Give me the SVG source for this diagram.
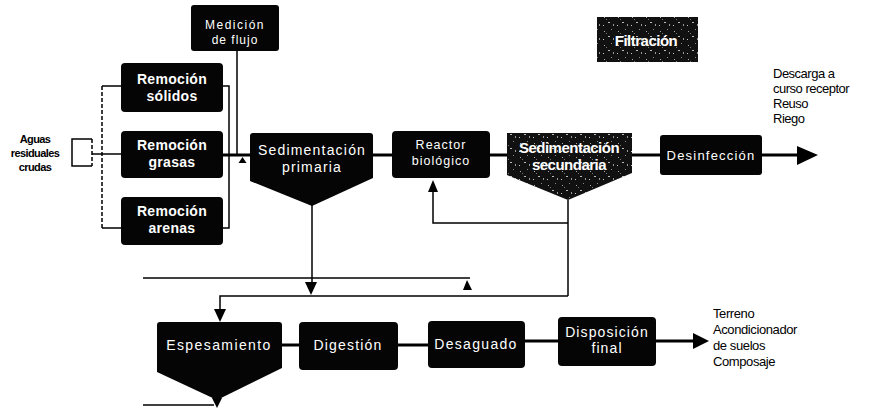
<svg xmlns="http://www.w3.org/2000/svg" width="879" height="408" viewBox="0 0 879 408">
<style>
.box{fill:#050505;}
.tex{fill:url(#speck);}
.t{font-family:"Liberation Sans",Arial,sans-serif;fill:#fff;text-anchor:middle;}
.b{font-weight:bold;}
.k{font-family:"Liberation Sans",Arial,sans-serif;fill:#000;}
.main{stroke:#000;stroke-width:3;fill:none;}
.thin{stroke:#000;stroke-width:1.5;fill:none;}
.dash{stroke:#000;stroke-width:1.5;fill:none;stroke-dasharray:4 2;}
.ah{fill:#000;}
</style>
<defs>
<pattern id="speck" width="14" height="14" patternUnits="userSpaceOnUse">
<rect width="14" height="14" fill="#111"/>
<rect x="2" y="3" width="1" height="1" fill="#aaa"/>
<rect x="9" y="1" width="1" height="1" fill="#888"/>
<rect x="6" y="8" width="2" height="1" fill="#bbb"/>
<rect x="11" y="10" width="1" height="2" fill="#999"/>
<rect x="1" y="11" width="1" height="1" fill="#ccc"/>
<rect x="4" y="5" width="1" height="1" fill="#777"/>
</pattern>
</defs>

<g id="connectors">
  <path class="thin" d="M92,139 H72 V166 H92"/>
  <path class="dash" d="M92,139 V166"/>
  <path class="thin" d="M92,154 H121"/>
  <path class="dash" d="M102,86 V228"/>
  <path class="thin" d="M102,86 H121 M102,228 H121"/>
  <path class="thin" d="M223,86 H229 V228 H223"/>
  <path class="thin" d="M237,51 V155"/>
  <polygon class="ah" points="238.5,163 242.5,157 246.5,163"/>
  <path class="main" d="M223,155 H250"/>
  <path class="main" d="M373,155 H392"/>
  <path class="main" d="M490,155 H507"/>
  <path class="main" d="M632,155 H660"/>
  <path class="main" d="M762,155 H800"/>
  <polygon class="ah" points="797,146 818,155 797,165"/>
  <path class="thin" d="M568,200 V296"/>
  <path class="thin" d="M568,223 H433 V190"/>
  <polygon class="ah" points="428,192 433,180 438,192"/>
  <path class="thin" d="M312,205 V284"/>
  <polygon class="ah" points="305,282 311,295 317,282"/>
  <path class="thin" d="M143,278 H470"/>
  <polygon class="ah" points="463,290 467,280 472,290"/>
  <path class="thin" d="M568,296 H220 V311"/>
  <polygon class="ah" points="214,309 220,322 226,309"/>
  <path class="main" d="M282,345 H299"/>
  <path class="main" d="M398,345 H428"/>
  <path class="main" d="M525,341 H558"/>
  <path class="main" d="M656,341 H695"/>
  <polygon class="ah" points="693,333 709,341 693,349"/>
  <polygon class="ah" points="212,398 217,408 222,398"/>
  <path class="thin" d="M143,405 H214"/>
</g>

<g id="aguas">
  <text class="k b" x="35" y="143" font-size="11" text-anchor="middle" letter-spacing="-0.6">Aguas</text>
  <text class="k b" x="35" y="157" font-size="11" text-anchor="middle" letter-spacing="-0.6">residuales</text>
  <text class="k b" x="35" y="171" font-size="11" text-anchor="middle" letter-spacing="-0.6">crudas</text>
</g>

<g id="medicion">
  <rect class="box" x="191" y="5" width="88" height="46" rx="3"/>
  <text class="t" x="235" y="29" font-size="12" letter-spacing="1.5">Medición</text>
  <text class="t" x="235" y="44" font-size="12" letter-spacing="1">de flujo</text>
</g>

<g id="rem-solidos">
  <rect class="box" x="121" y="63" width="102" height="49" rx="4"/>
  <text class="t b" x="172" y="84" font-size="14" letter-spacing="0.3">Remoción</text>
  <text class="t b" x="172" y="101" font-size="14" letter-spacing="0.3">sólidos</text>
</g>
<g id="rem-grasas">
  <rect class="box" x="121" y="131" width="102" height="47" rx="4"/>
  <text class="t b" x="172" y="150" font-size="14" letter-spacing="0.3">Remoción</text>
  <text class="t b" x="172" y="167" font-size="14" letter-spacing="0.3">grasas</text>
</g>
<g id="rem-arenas">
  <rect class="box" x="121" y="197" width="102" height="48" rx="4"/>
  <text class="t b" x="172" y="216" font-size="14" letter-spacing="0.3">Remoción</text>
  <text class="t b" x="172" y="233" font-size="14" letter-spacing="0.3">arenas</text>
</g>

<g id="sed-primaria">
  <path class="box" d="M253,133 H370 Q373,133 373,136 V178 L312,206 L250,181 V136 Q250,133 253,133 Z"/>
  <text class="t" x="312" y="155" font-size="14" letter-spacing="1.2">Sedimentación</text>
  <text class="t" x="312" y="172" font-size="14" letter-spacing="1.2">primaria</text>
</g>

<g id="reactor">
  <rect class="box" x="392" y="131" width="98" height="47" rx="4"/>
  <text class="t" x="441" y="149" font-size="12.5" letter-spacing="1">Reactor</text>
  <text class="t" x="441" y="165" font-size="12.5" letter-spacing="1">biológico</text>
</g>

<g id="sed-secundaria">
  <path class="tex" d="M507,133 H632 V173 L568,200 L507,175 Z"/>
  <text class="t b" x="569" y="153" font-size="15" letter-spacing="-0.5">Sedimentación</text>
  <text class="t b" x="569" y="170" font-size="15" letter-spacing="-0.5">secundaria</text>
</g>

<g id="filtracion">
  <rect class="tex" x="597" y="17" width="101" height="45"/>
  <text class="t b" x="646" y="46" font-size="15" letter-spacing="-0.5">Filtración</text>
</g>

<g id="desinfeccion">
  <rect class="box" x="660" y="135" width="102" height="40" rx="3"/>
  <text class="t" x="711" y="160" font-size="13" letter-spacing="1.2">Desinfección</text>
</g>

<g id="descarga">
  <text class="k" x="773" y="78" font-size="13" letter-spacing="-0.5">Descarga a</text>
  <text class="k" x="773" y="93" font-size="13" letter-spacing="-0.5">curso receptor</text>
  <text class="k" x="773" y="108" font-size="13" letter-spacing="-0.5">Reuso</text>
  <text class="k" x="773" y="123" font-size="13" letter-spacing="-0.5">Riego</text>
</g>

<g id="espesamiento">
  <path class="box" d="M160,322 H279 Q282,322 282,325 V368 L217,400 L157,372 V325 Q157,322 160,322 Z"/>
  <text class="t" x="219" y="350" font-size="14" letter-spacing="1.4">Espesamiento</text>
</g>

<g id="digestion">
  <rect class="box" x="299" y="322" width="99" height="48" rx="4"/>
  <text class="t" x="348" y="350" font-size="14" letter-spacing="1.2">Digestión</text>
</g>

<g id="desaguado">
  <rect class="box" x="428" y="321" width="97" height="47" rx="4"/>
  <text class="t" x="476" y="349" font-size="14" letter-spacing="1.3">Desaguado</text>
</g>

<g id="disposicion">
  <rect class="box" x="558" y="317" width="98" height="49" rx="4"/>
  <text class="t" x="607" y="337" font-size="14" letter-spacing="1.1">Disposición</text>
  <text class="t" x="607" y="353" font-size="14" letter-spacing="1.1">final</text>
</g>

<g id="terreno">
  <text class="k" x="713" y="318" font-size="13" letter-spacing="-0.4">Terreno</text>
  <text class="k" x="713" y="334" font-size="13" letter-spacing="-0.4">Acondicionador</text>
  <text class="k" x="713" y="350" font-size="13" letter-spacing="-0.4">de suelos</text>
  <text class="k" x="713" y="366" font-size="13" letter-spacing="-0.4">Composaje</text>
</g>
</svg>
